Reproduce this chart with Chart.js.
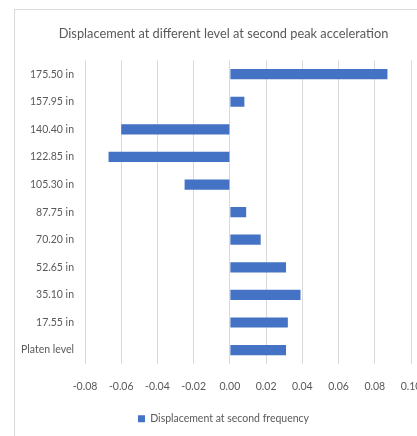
<!DOCTYPE html>
<html>
<head>
<meta charset="utf-8">
<script src="https://cdn.jsdelivr.net/npm/chart.js@4.4.1/dist/chart.umd.min.js"></script>
<style>
  html, body { margin: 0; padding: 0; background: #fff; overflow: hidden; }
  #frame {
    position: absolute; left: 14px; top: 9px;
    width: 460px; height: 460px;
    border: 1px solid #d9d9d9;
  }
  #wrap { position: absolute; left: 0; top: 0; width: 447px; height: 436px; }
</style>
</head>
<body>
<div id="frame"></div>
<div id="wrap"><canvas id="chart"></canvas></div>
<script>
// Floor levels, top of the building first
const levels = [
  "175.50 in", "157.95 in", "140.40 in", "122.85 in", "105.30 in",
  "87.75 in", "70.20 in", "52.65 in", "35.10 in", "17.55 in", "Platen level",
];

// Displacement at each level (second peak acceleration)
const displacement = [
  0.087, 0.008, -0.060, -0.067, -0.025,
  0.009, 0.017, 0.031, 0.039, 0.032, 0.031,
];

const seriesName = "Displacement at second frequency";
const chartTitle = "Displacement at different level at second peak acceleration";

const textColor = "#595959";
const fontFamily = "Lato, 'Open Sans', sans-serif";

new Chart(document.getElementById("chart"), {
  type: "bar",
  data: {
    labels: levels,
    datasets: [
      {
        label: seriesName,
        data: displacement,
        backgroundColor: "#4472C4",
        borderWidth: 0,
        barPercentage: 0.37,
        categoryPercentage: 1.0,
      },
    ],
  },
  options: {
    indexAxis: "y",
    responsive: true,
    maintainAspectRatio: false,
    animation: false,
    layout: { padding: { left: 0, right: 0, top: 0, bottom: 2 } },
    plugins: {
      title: {
        display: true,
        text: chartTitle,
        color: textColor,
        font: { family: fontFamily, size: 12.8, weight: "normal" },
        padding: { top: 26, bottom: 19 },
      },
      legend: {
        position: "bottom",
        labels: {
          color: textColor,
          font: { family: fontFamily, size: 10.5 },
          boxWidth: 7,
          boxHeight: 7,
          padding: 5,
        },
      },
      tooltip: { enabled: false },
    },
    scales: {
      x: {
        min: -0.08,
        max: 0.1,
        ticks: {
          stepSize: 0.02,
          color: textColor,
          font: { family: fontFamily, size: 10.5 },
          padding: 16,
          callback: (v) => v.toFixed(2),
        },
        grid: { color: "#d9d9d9", drawTicks: false },
        border: { display: false },
      },
      y: {
        ticks: {
          color: textColor,
          font: { family: fontFamily, size: 10.5 },
          padding: 11,
        },
        grid: { display: false, drawTicks: false },
        border: { display: false },
        afterFit: (scale) => { scale.width = 85; },
      },
      // empty right-hand axis: reserves the margin right of the plot
      spacer: {
        axis: "y",
        type: "linear",
        position: "right",
        ticks: { display: false },
        grid: { display: false },
        border: { display: false },
        afterFit: (scale) => { scale.width = 36; },
      },
    },
  },
});
</script>
</body>
</html>
